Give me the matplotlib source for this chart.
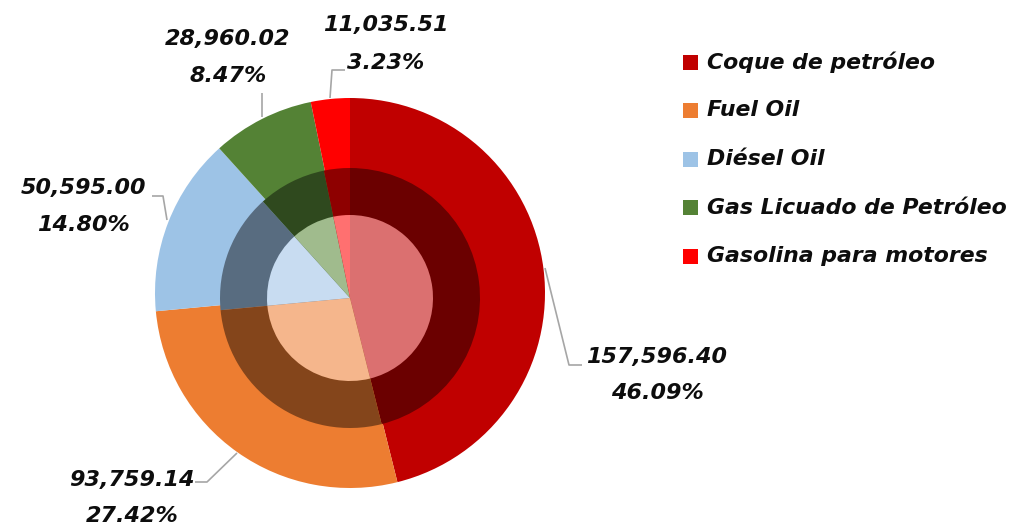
import matplotlib
matplotlib.use("Agg")
import matplotlib.pyplot as plt
from matplotlib.patches import Rectangle

# data
categories = ["Coque de petróleo", "Fuel Oil", "Diésel Oil",
              "Gas Licuado de Petróleo", "Gasolina para motores"]
values = [157596.40, 93759.14, 50595.00, 28960.02, 11035.51]
value_labels = ["157,596.40", "93,759.14", "50,595.00", "28,960.02", "11,035.51"]
pct_labels = ["46.09%", "27.42%", "14.80%", "8.47%", "3.23%"]

# colours: outer ring, darker middle ring, lighter inner pie
outer_colors = ["#C00000", "#ED7D31", "#9DC3E6", "#548235", "#FF0000"]
mid_colors = ["#6B0000", "#84451B", "#586C80", "#2F491E", "#8E0000"]
inner_colors = ["#DB7070", "#F5B68C", "#C8DCF1", "#A0BB8D", "#FF7070"]

W, H = 1013, 529
fig = plt.figure(figsize=(W / 100, H / 100), dpi=100)
ax = fig.add_axes([0, 0, 1, 1])

# work in pixel units, y measured from the bottom
cx, cy = 350, H - 293
cy_in = H - 298

ax.pie(values, colors=outer_colors, radius=195, center=(cx, cy),
       startangle=90, counterclock=False, frame=True,
       wedgeprops=dict(linewidth=0))
ax.pie(values, colors=mid_colors, radius=130, center=(cx, cy_in),
       startangle=90, counterclock=False, frame=True,
       wedgeprops=dict(linewidth=0))
ax.pie(values, colors=inner_colors, radius=83, center=(cx, cy_in),
       startangle=90, counterclock=False, frame=True,
       wedgeprops=dict(linewidth=0))

# leader lines (pixel coords from top)
leaders = [
    [(545, 268), (569, 365), (582, 365)],
    [(237, 453), (207, 482), (195, 482)],
    [(167, 220), (163, 196), (152, 196)],
    [(262, 117), (262, 93)],
    [(330, 98), (332, 70), (345, 70)],
]
for pts in leaders:
    ax.plot([p[0] for p in pts], [H - p[1] for p in pts],
            color="#A6A6A6", lw=1.2, solid_capstyle="butt")

# data labels: (x centre, y of value line, y of pct line) in pixels from top
label_pos = [(657, 357, 393), (132, 480, 516), (83, 188, 225),
             (228, 39, 76), (386, 25, 63)]
font = dict(family="DejaVu Sans", weight="bold", style="italic",
            fontsize=16, color="#0D0D0D", ha="center", va="center")
for (x, y1, y2), v, p in zip(label_pos, value_labels, pct_labels):
    ax.text(x, H - y1, v, **font)
    ax.text(x, H - y2, p, **font)

# legend
for i, (name, col) in enumerate(zip(categories, outer_colors)):
    yc = 62 + i * 48.5
    ax.add_patch(Rectangle((683, H - yc - 7.5), 15, 15, color=col, lw=0))
    ax.text(707, H - yc, name, family="DejaVu Sans", style="italic",
            weight="bold", fontsize=15.8, color="#0D0D0D",
            ha="left", va="center")

ax.set_xlim(0, W)
ax.set_ylim(0, H)
ax.set_aspect("equal")
ax.axis("off")

fig.savefig("out.png", dpi=100)
